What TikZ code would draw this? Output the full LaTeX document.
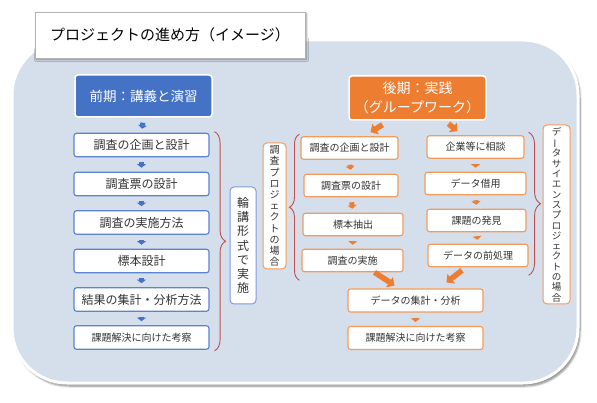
\documentclass[tikz,border=0pt]{standalone}
\usepackage{fontspec}
\setmainfont{Noto Sans CJK JP}
\usetikzlibrary{arrows.meta,decorations.pathreplacing,shadows.blur,calc}
\definecolor{bgcol}{HTML}{D5DEEB}
\definecolor{hblue}{HTML}{4472C4}
\definecolor{lblue}{HTML}{5B83CF}
\definecolor{horange}{HTML}{ED7D31}
\definecolor{lorange}{HTML}{F39B5B}
\definecolor{bred}{HTML}{C0504D}
\definecolor{txt}{HTML}{333333}
\newcommand\vbar{\rotatebox[origin=c]{90}{ー}}
\begin{document}
\begin{tikzpicture}[x=1pt,y=-1pt,
  titlebox/.style={draw=black!30, fill=white, line width=0.8pt, minimum width=270pt, minimum height=46pt, inner sep=0pt,
    blur shadow={shadow xshift=1.5pt, shadow yshift=-1.5pt, shadow blur steps=5}, font=\fontsize{15}{16}\selectfont, text=black},
  hdrbox/.style={draw=white, line width=1.5pt, rounded corners=3pt, inner sep=0pt, text=white, align=center},
  lbox/.style={draw=lblue, line width=1.1pt, fill=white, rounded corners=2.5pt, minimum width=135pt, minimum height=23.5pt, inner sep=0pt, text=txt, font=\fontsize{12}{14}\selectfont},
  obox/.style={draw=lorange, line width=1.1pt, fill=white, rounded corners=2.5pt, minimum height=22.5pt, inner sep=0pt, text=txt, font=\fontsize{10}{12}\selectfont},
  labbox/.style={fill=white, line width=1pt, rounded corners=4pt, inner sep=0pt, align=center, text=txt},
  sarrow/.style={-{Triangle[width=9pt,length=3.5pt]}, line width=5pt, shorten <=5pt, shorten >=4pt},
  barrow/.style={-{Triangle[width=12pt,length=6pt]}, line width=5.5pt, draw=horange},
  bracedeco/.style={draw=bred, line width=0.9pt, decorate, decoration={brace, amplitude=#1}},
]
\useasboundingbox (0,0) rectangle (597,403);
% background
\path[fill=bgcol, draw=white, line width=3pt, rounded corners=55pt,
  blur shadow={shadow xshift=2pt, shadow yshift=-3pt, shadow blur steps=6, shadow opacity=50}]
  (12,40) rectangle (578,383);
% title
\node[titlebox] (title) at (170,35) {プロジェクトの進め方（イメージ）};
% left column
\node[hdrbox, fill=hblue, minimum width=137pt, minimum height=42pt, font=\fontsize{13.5}{16}\selectfont] (h1) at (143.5,96) {前期：講義と演習};
\node[lbox] (b1) at (141.5,145) {調査の企画と設計};
\node[lbox] (b2) at (141.5,184) {調査票の設計};
\node[lbox] (b3) at (141.5,222.5) {調査の実施方法};
\node[lbox] (b4) at (141.5,261) {標本設計};
\node[lbox] (b5) at (141.5,299.5) {結果の集計・分析方法};
\node[lbox, font=\fontsize{10}{12}\selectfont] (b6) at (141.5,337.5) {課題解決に向けた考察};
\foreach \a/\b in {h1/b1,b1/b2,b2/b3,b3/b4,b4/b5,b5/b6}
  \draw[sarrow, draw=hblue] (\a.south) -- (\b.north);
\draw[bracedeco=11pt] ($(b1.north east)+(5,-1)$) -- ($(b6.south east)+(5,1)$);
\node[labbox, draw=lblue!80, minimum width=26pt, minimum height=117pt, font=\fontsize{12}{14.3}\selectfont] (lab1) at (243,245.5)
  {輪\\講\\形\\式\\で\\実\\施};
% right part
\node[hdrbox, fill=horange, minimum width=137pt, minimum height=44pt, font=\fontsize{14}{19}\selectfont] (h2) at (417.5,98) {後期：実践\\（グループワーク）};
\node[obox, minimum width=97pt] (c1) at (349.5,148) {調査の企画と設計};
\node[obox, minimum width=94pt] (c2) at (351,185.5) {調査票の設計};
\node[obox, minimum width=100pt] (c3) at (353,224.5) {標本抽出};
\node[obox, minimum width=101pt] (c4) at (352.5,260.5) {調査の実施};
\node[obox, minimum width=97pt] (d1) at (475.5,147) {企業等に相談};
\node[obox, minimum width=101pt] (d2) at (475.5,183.5) {データ借用};
\node[obox, minimum width=99pt] (d3) at (476.5,220.5) {課題の発見};
\node[obox, minimum width=100pt] (d4) at (478,255.5) {データの前処理};
\node[obox, minimum width=135pt, minimum height=23pt] (e1) at (415.5,300.5) {データの集計・分析};
\node[obox, minimum width=135pt, minimum height=23pt] (e2) at (415.5,338) {課題解決に向けた考察};
\foreach \a/\b in {c1/c2,c2/c3,c3/c4,d1/d2,d2/d3,d3/d4,e1/e2}
  \draw[sarrow, draw=horange] (\a.south) -- (\b.north);
% big arrows
\draw[barrow] ($(h2.south)+(-35,4)$) -- ($(c1.north)+(21,-4)$);
\draw[barrow] ($(h2.south)+(31,3)$) -- ($(d1.north)+(-18,-4)$);
\draw[barrow] ($(c4.south)+(22,0)$) -- ($(e1.north)+(-21,-3)$);
\draw[barrow] ($(d4.south)+(-16,3)$) -- ($(e1.north)+(31,-6)$);
% braces
\coordinate (br2t) at ($(c1.north west)+(-1,-2)$);
\coordinate (br2b) at ($(br2t |- c4.south)+(0,8)$);
\draw[bracedeco=10pt] (br2b) -- (br2t);
\coordinate (br3t) at ($(d1.north east)+(4,-3)$);
\coordinate (br3b) at ($(br3t |- d4.south)+(0,8)$);
\draw[bracedeco=12pt] (br3t) -- (br3b);
% side labels
\node[labbox, draw=lorange, minimum width=23pt, minimum height=126pt, font=\fontsize{10}{11.2}\selectfont] (lab2) at (274.5,206)
  {調\\査\\プ\\ロ\\ジ\\ェ\\ク\\ト\\の\\場\\合};
\node[labbox, draw=lorange, minimum width=27pt, minimum height=179pt, font=\fontsize{9.5}{10.3}\selectfont] (lab3) at (556.5,214.5)
  {デ\\\vbar\\タ\\サ\\イ\\エ\\ン\\ス\\プ\\ロ\\ジ\\ェ\\ク\\ト\\の\\場\\合};
\end{tikzpicture}
\end{document}
